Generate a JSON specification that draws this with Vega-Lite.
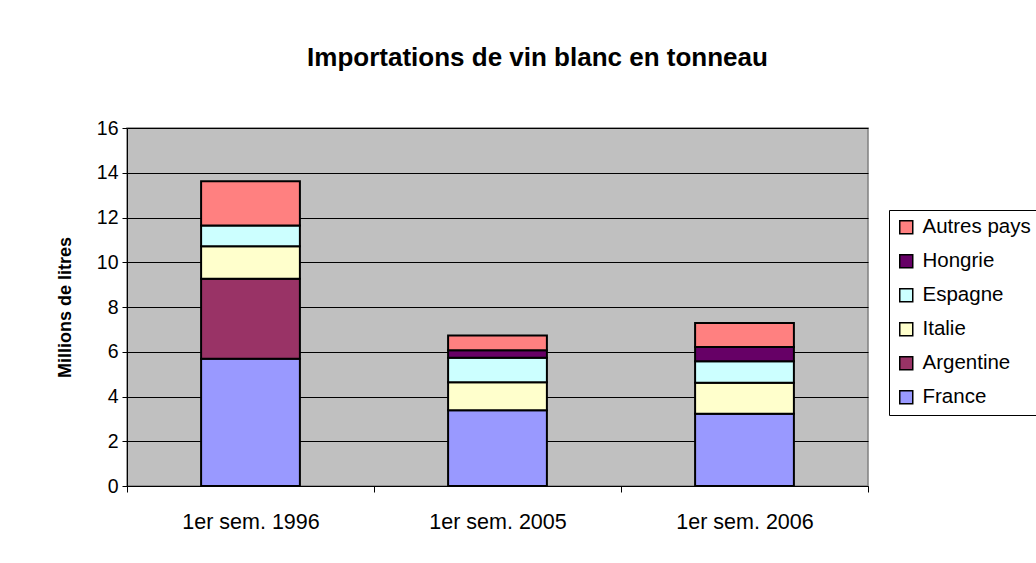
{
  "$schema": "https://vega.github.io/schema/vega-lite/v6.json",
  "autosize": "none",
  "width": 741,
  "height": 358,
  "padding": {"left": 127, "top": 128, "right": 168, "bottom": 77},
  "background": "white",
  "title": {
    "text": "Importations de vin blanc en tonneau",
    "font": "Liberation Sans",
    "fontSize": 26,
    "fontWeight": "bold",
    "color": "black",
    "anchor": "middle",
    "dx": 40,
    "offset": 47
  },
  "data": {
    "values": [
      {"periode": "1er sem. 1996", "pays": "France", "k": 1, "valeur": 5.69},
      {"periode": "1er sem. 1996", "pays": "Argentine", "k": 2, "valeur": 3.57},
      {"periode": "1er sem. 1996", "pays": "Italie", "k": 3, "valeur": 1.45},
      {"periode": "1er sem. 1996", "pays": "Espagne", "k": 4, "valeur": 0.93},
      {"periode": "1er sem. 1996", "pays": "Autres pays", "k": 6, "valeur": 1.98},
      {"periode": "1er sem. 2005", "pays": "France", "k": 1, "valeur": 3.39},
      {"periode": "1er sem. 2005", "pays": "Italie", "k": 3, "valeur": 1.25},
      {"periode": "1er sem. 2005", "pays": "Espagne", "k": 4, "valeur": 1.09},
      {"periode": "1er sem. 2005", "pays": "Hongrie", "k": 5, "valeur": 0.34},
      {"periode": "1er sem. 2005", "pays": "Autres pays", "k": 6, "valeur": 0.66},
      {"periode": "1er sem. 2006", "pays": "France", "k": 1, "valeur": 3.23},
      {"periode": "1er sem. 2006", "pays": "Italie", "k": 3, "valeur": 1.39},
      {"periode": "1er sem. 2006", "pays": "Espagne", "k": 4, "valeur": 0.96},
      {"periode": "1er sem. 2006", "pays": "Hongrie", "k": 5, "valeur": 0.63},
      {"periode": "1er sem. 2006", "pays": "Autres pays", "k": 6, "valeur": 1.08}
    ]
  },
  "mark": {"type": "bar", "width": {"band": 0.4}, "stroke": "black", "strokeWidth": 2},
  "encoding": {
    "x": {
      "field": "periode",
      "type": "nominal",
      "scale": {"paddingInner": 0, "paddingOuter": 0},
      "axis": {
        "title": null,
        "labelAngle": 0,
        "labelFont": "Liberation Sans",
        "labelFontSize": 21.5,
        "labelColor": "black",
        "labelPadding": 19,
        "tickBand": "extent",
        "tickSize": 6,
        "tickColor": "black",
        "domainColor": "black",
        "grid": false
      }
    },
    "y": {
      "field": "valeur",
      "type": "quantitative",
      "stack": "zero",
      "scale": {"domain": [0, 16], "nice": false},
      "axis": {
        "title": "Millions de litres",
        "titleFont": "Liberation Sans",
        "titleFontSize": 18,
        "titleFontWeight": "bold",
        "titleColor": "black",
        "titlePadding": 22,
        "values": [0, 2, 4, 6, 8, 10, 12, 14, 16],
        "labelFont": "Liberation Sans",
        "labelFontSize": 19.5,
        "labelColor": "black",
        "labelPadding": 4,
        "tickSize": 5,
        "tickColor": "black",
        "domainColor": "black",
        "grid": true,
        "gridColor": "black",
        "gridOpacity": 1,
        "gridWidth": 1
      }
    },
    "color": {
      "field": "pays",
      "type": "nominal",
      "scale": {
        "domain": ["Autres pays", "Hongrie", "Espagne", "Italie", "Argentine", "France"],
        "range": ["#FF8080", "#660066", "#CCFFFF", "#FFFFCC", "#993366", "#9999FF"]
      },
      "legend": {
        "title": null,
        "orient": "none",
        "legendX": 762,
        "legendY": 82,
        "padding": 7,
        "strokeColor": "black",
        "fillColor": "white",
        "symbolType": "square",
        "symbolSize": 169,
        "symbolStrokeColor": "black",
        "symbolStrokeWidth": 1.5,
        "symbolOpacity": 1,
        "labelFont": "Liberation Sans",
        "labelFontSize": 20.5,
        "labelColor": "black",
        "labelOffset": 6,
        "rowPadding": 13,
        "labelLimit": 300
      }
    },
    "order": {"field": "k", "type": "quantitative"}
  },
  "config": {
    "view": {"fill": "#C0C0C0", "stroke": "#808080", "strokeWidth": 1.5}
  }
}
